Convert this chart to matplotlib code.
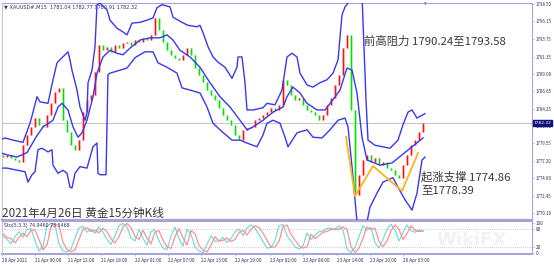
import matplotlib
matplotlib.use('Agg')
import matplotlib.pyplot as plt
import numpy as np

plt.rcParams['font.family'] = ['Noto Sans CJK SC', 'DejaVu Sans']

# ---- data (x = candle index) ----
first_open = 1778.0
closes = [1777.71, 1777.98, 1777.57, 1777.30, 1777.03, 1779.34, 1780.70, 1781.78, 1783.01, 1782.06,
          1781.78, 1783.42, 1785.05, 1786.54, 1787.08, 1782.74, 1781.11, 1779.34, 1778.66, 1780.02,
          1783.82, 1785.45, 1786.13, 1789.26, 1792.93, 1792.25, 1792.65, 1791.98, 1792.93, 1792.52,
          1793.20, 1793.33, 1792.93, 1793.61, 1793.33, 1793.88, 1793.61, 1794.28, 1796.59, 1794.96,
          1793.33, 1792.25, 1791.57, 1791.16, 1790.89, 1791.57, 1792.52, 1791.57, 1789.80, 1788.85,
          1787.90, 1786.81, 1786.13, 1785.45, 1784.37, 1783.42, 1782.74, 1782.06, 1780.70, 1780.02,
          1781.38, 1781.65, 1781.78, 1782.74, 1783.01, 1783.42, 1783.82, 1784.37, 1784.09, 1784.77,
          1788.17, 1787.49, 1786.13, 1785.45, 1785.73, 1784.77, 1784.09, 1783.82, 1783.42, 1782.74,
          1783.42, 1784.77, 1785.73, 1787.49, 1788.85, 1792.52, 1794.28, 1784.09, 1772.55, 1775.26,
          1777.30, 1777.98, 1777.03, 1777.57, 1776.62, 1777.03, 1776.21, 1775.94, 1775.26, 1774.86,
          1776.62, 1777.98, 1779.34, 1780.02, 1781.11, 1782.32]

# bollinger bands
upper_x = [-0.75, 0.5, 2.5, 5, 6.75, 7.5, 8.5, 9.25, 11.25, 12.5, 13.5, 14.75, 16.25, 16.75, 17.25, 18.5,
           19.25, 20.5, 21, 21.25, 22.25, 23, 23.5, 24.25, 26, 26.75, 28.5, 30, 31, 32.25, 34.25, 36,
           37.5, 38.5, 39.75, 41.75, 42.5, 44.75, 46.25, 48.5, 49.25, 50, 51.25, 52.5, 53.75, 55.5,
           57.25, 58.5, 58.75, 59.75, 60.5, 61, 62.5, 65, 66, 68, 69.75, 71, 72.25, 73.5, 74.25, 76,
           77.5, 79.25, 81, 82.5, 83.75, 84.75, 85.5, 86.25, 88, 89.75, 90.75, 91.25, 93, 96.75, 98.75,
           100, 101.25, 102.25, 103.5, 105.5]
upper_y = [1780.0, 1780.3, 1780.0, 1779.7, 1782.3, 1783.8, 1785.9, 1785.2, 1785.0, 1788.2, 1790.5, 1791.2,
           1792.0, 1790.9, 1789.5, 1786.8, 1784.5, 1782.7, 1783.7, 1787.8, 1789.5, 1792.7, 1798.4, 1798.6,
           1797.7, 1796.3, 1795.2, 1794.7, 1794.3, 1795.9, 1796.0, 1796.3, 1796.6, 1798.0, 1798.4, 1798.1,
           1796.7, 1796.0, 1795.6, 1795.4, 1795.6, 1794.6, 1792.7, 1791.3, 1790.6, 1789.9, 1788.4, 1789.9,
           1791.3, 1791.3, 1787.8, 1784.1, 1784.1, 1784.4, 1785.0, 1784.8, 1786.8, 1791.3, 1791.8, 1791.3,
           1789.1, 1787.5, 1787.2, 1787.8, 1788.2, 1789.1, 1790.9, 1797.0, 1798.1, 1798.6, 1799.7, 1799.7,
           1785.5, 1780.0, 1779.3, 1778.9, 1780.0, 1782.1, 1783.8, 1784.1, 1783.0, 1783.6]
mid_x = [-0.75, 1, 3.5, 6, 8.25, 10, 12.5, 13.75, 14.75, 16.25, 17.5, 18.75, 19.75, 21, 22.5, 23.5, 25,
         26.75, 28.5, 30, 31.75, 34.25, 36.75, 39.25, 41, 42.5, 44.25, 46.75, 49.25, 51.75, 54.25, 56.75,
         59.25, 61, 62.5, 65, 67.5, 70, 71, 72.5, 74.25, 76, 78.5, 80.5, 82.5, 84.25, 86, 87.25, 88.5,
         89.75, 91, 94.25, 97.25, 99.75, 102.25, 105]
mid_y = [1778.3, 1778.0, 1777.7, 1778.3, 1780.4, 1781.8, 1782.7, 1784.5, 1785.0, 1784.1, 1781.8, 1780.4,
         1781.0, 1782.7, 1785.9, 1789.1, 1791.3, 1792.2, 1791.8, 1791.6, 1792.5, 1793.6, 1793.9, 1793.9,
         1794.3, 1793.6, 1792.2, 1791.3, 1789.9, 1787.8, 1785.9, 1784.5, 1782.7, 1781.4, 1781.8, 1782.7,
         1783.8, 1784.5, 1785.9, 1787.2, 1786.4, 1785.0, 1784.1, 1784.1, 1785.5, 1786.8, 1789.8, 1789.5,
         1786.4, 1780.4, 1777.3, 1776.6, 1776.9, 1778.0, 1779.1, 1780.3]
lower_x = [-0.75, 1, 5.5, 6.25, 7.25, 8, 8.75, 9.75, 11.25, 12.25, 12.5, 13.75, 15, 16, 16.75, 17.25, 18,
           19.25, 21, 22.5, 23.5, 23.75, 24.25, 25.75, 26.25, 26.75, 29.25, 31, 33, 35.5, 37.5, 38.75, 41,
           43.5, 44.75, 46.75, 49.25, 51, 52.5, 54.25, 57.25, 59.25, 61, 63.5, 65, 66, 67.5, 69.25, 70.5,
           71.25, 73.5, 76, 77.5, 79.75, 81.75, 83.75, 85.5, 86.25, 87.25, 88.5, 89.75, 91, 91.75, 93.5,
           95, 97.5, 98.75, 100.5, 102.25, 103.5, 104.75, 105.5]
lower_y = [1776.2, 1776.2, 1775.7, 1774.3, 1775.3, 1775.7, 1778.7, 1778.9, 1778.4, 1778.7, 1776.6, 1775.5,
           1775.9, 1775.5, 1773.6, 1773.5, 1775.5, 1776.4, 1776.2, 1779.1, 1779.6, 1775.5, 1775.3, 1775.3,
           1788.9, 1789.1, 1789.5, 1789.8, 1791.2, 1792.0, 1792.0, 1790.5, 1789.9, 1789.1, 1787.1, 1786.8,
           1786.4, 1784.5, 1782.3, 1781.4, 1780.0, 1780.0, 1779.6, 1779.1, 1780.7, 1782.3, 1782.7, 1782.3,
           1780.4, 1779.1, 1781.0, 1781.4, 1780.4, 1780.3, 1781.4, 1782.7, 1783.0, 1781.8, 1776.4, 1768.9,
           1768.3, 1768.9, 1770.9, 1772.8, 1774.3, 1774.9, 1773.6, 1771.9, 1770.5, 1772.8, 1777.3, 1777.7]

# hand drawn support line
trend_x = [85.75, 88, 92.5, 99.75, 103.75]
trend_y = [1780.43, 1772.41, 1776.49, 1773.09, 1778.25]

# stochastic (5,3,3): main (K) and signal (D)
sto_k = [58, 45, 30, 55, 72, 52, 80, 82, 40, 5, 20, 92, 100, 96, 30, 5, 2, 12, 50, 85,
         90, 70, 80, 66, 88, 70, 45, 28, 58, 92, 100, 88, 50, 40, 80, 48, 25, 72, 78, 40,
         15, 10, 58, 88, 48, 22, 80, 62, 20, 5, 0, 28, 58, 38, 40, 52, 35, 48, 72, 80,
         58, 84, 95, 84, 62, 38, 15, 18, 42, 92, 97, 58, 40, 20, 12, 22, 68, 45, 60, 72,
         74, 83, 84, 78, 92, 78, 12, 0, 18, 55, 92, 78, 86, 34, 16, 45, 80, 97, 78, 40,
         68, 95, 75, 70, 76, 75]
sto_d = [65, 52, 48, 33, 52, 67, 55, 76, 78, 45, 9, 26, 90, 98, 93, 35, 10, 3, 9, 45,
         80, 86, 72, 77, 68, 84, 72, 48, 33, 55, 89, 100, 86, 55, 45, 77, 50, 30, 70, 75,
         43, 20, 14, 55, 82, 50, 26, 76, 65, 25, 8, 2, 25, 55, 40, 42, 50, 38, 45, 68,
         77, 60, 80, 92, 86, 67, 43, 18, 20, 38, 89, 95, 62, 43, 24, 15, 20, 63, 48, 58,
         70, 72, 80, 82, 80, 88, 80, 20, 0, 15, 50, 88, 80, 84, 38, 20, 40, 75, 95, 80,
         45, 65, 92, 77, 73, 73.5]

price_ticks = [1770.10, 1772.45, 1774.80, 1777.20, 1779.55, 1781.90, 1784.25,
               1786.65, 1789.00, 1791.35, 1793.75, 1796.15, 1798.50]
last_price = 1782.32
time_pos = [-0.25, 8, 16.25, 24.5, 33, 41.25, 49.5, 58, 66.75, 75, 83.5, 91.75, 100]
time_labels = ['20 Apr 2021', '21 Apr 06:00', '21 Apr 12:00', '21 Apr 18:00', '22 Apr 01:00',
               '22 Apr 07:00', '22 Apr 13:00', '22 Apr 19:00', '23 Apr 02:00', '23 Apr 08:00',
               '23 Apr 14:00', '23 Apr 20:00', '26 Apr 03:00']

W, H = 554, 265
frame = '#a4a4d8'
txt = '#303060'

fig = plt.figure(figsize=(W / 100, H / 100), dpi=100)
ax = fig.add_axes([2 / W, 45 / H, 530 / W, 217 / H])
ax2 = fig.add_axes([2 / W, 11 / H, 530 / W, 33 / H])

# ---- candles ----
c = np.array(closes)
o = np.array([first_open] + closes[:-1])
idx = np.arange(len(c))
up = c >= o
dn = ~up
ax.vlines(idx[up], o[up], c[up], colors='#ffc4c4', lw=2.3, zorder=2)
ax.vlines(idx[dn], o[dn], c[dn], colors='#c4f7c4', lw=2.3, zorder=2)
ax.vlines(idx[up], o[up], c[up], colors='#ff1010', lw=0.9, zorder=3)
ax.vlines(idx[dn], o[dn], c[dn], colors='#00e000', lw=0.9, zorder=3)

# ---- bands ----
for bx, by in [(upper_x, upper_y), (mid_x, mid_y), (lower_x, lower_y)]:
    ax.plot(bx, by, color='#3838f0', lw=1.0, zorder=4)

ax.plot(trend_x, trend_y, color='#ffb020', lw=1.3, zorder=5)
ax.axhline(last_price, color='#c6c6d0', lw=0.8, zorder=1)

ax.set_xlim(-0.25, 132.25)
ax.set_ylim(1769.15, 1798.63)
ax.set_xticks([])
ax.yaxis.tick_right()
ax.set_yticks(price_ticks)
ax.set_yticklabels(['%.2f' % p for p in price_ticks])
ax.tick_params(axis='y', labelsize=3.2, length=1.5, width=0.5, pad=1,
               color=frame, labelcolor=txt)
for s in ax.spines.values():
    s.set_color(frame)
    s.set_linewidth(0.8)
ax.spines['bottom'].set_linewidth(1.6)
ax.spines['left'].set_color('#c8c8c8')

# current price box on the axis
ax.annotate('%.2f' % last_price, xy=(1.0, last_price), xycoords=('axes fraction', 'data'),
            xytext=(1.2, 0), textcoords='offset points', fontsize=3.2, color='white',
            va='center', ha='left', family=['DejaVu Sans'], annotation_clip=False,
            bbox=dict(boxstyle='square,pad=0.2', fc='#10107a', ec='#10107a'))

ax.text(0.004, 0.992, '\u25bc XAUUSD#,M15  1781.04 1782.77 1780.91 1782.32',
        transform=ax.transAxes, fontsize=3.6, va='top', ha='left', color=txt,
        family=['DejaVu Sans'])
# shift marker at the top of the chart
ax.text(105.5, 1798.63, '\u25bc', fontsize=2.6, color='#808080', ha='center', va='top',
        family=['DejaVu Sans'])

# ---- stochastic ----
ax2.plot(idx, sto_k, color='#70dcd8', lw=0.85)
ax2.plot(idx, sto_d, color='#ff8a8a', lw=0.85)
for lvl in [20, 80]:
    ax2.axhline(lvl, color='#a0a0a0', lw=0.5, ls=(0, (1, 2)))
ax2.set_xlim(-0.25, 132.25)
ax2.set_ylim(-5, 108.6)
ax2.yaxis.tick_right()
ax2.set_yticks([0, 20, 80, 100])
ax2.set_yticklabels(['0', '20', '80', '100'])
ax2.set_xticks(time_pos)
ax2.set_xticklabels(time_labels)
for lab in ax2.get_xticklabels():
    lab.set_ha('left')
ax2.tick_params(labelsize=3.4, length=1.5, width=0.5, pad=1.2, color=frame, labelcolor=txt)
for s in ax2.spines.values():
    s.set_color(frame)
    s.set_linewidth(0.8)
ax2.spines['bottom'].set_linewidth(1.4)
ax2.spines['left'].set_color('#c8c8c8')
ax2.text(0.004, 0.93, 'Sto(5,3,3) 74.9460 73.5468', transform=ax2.transAxes,
         fontsize=3.4, va='top', ha='left', color=txt, family=['DejaVu Sans'])

# ---- annotations ----
def px(x, y):
    return x / W, 1 - y / H

fs = 8.2
fig.text(*px(364, 41), '前高阻力 1790.24至1793.58', fontsize=fs, color='#3a3a3a', va='center')
fig.text(*px(421, 177), '起涨支撑 1774.86', fontsize=fs, color='#3a3a3a', va='center')
fig.text(*px(421, 190), '至1778.39', fontsize=fs, color='#3a3a3a', va='center')
fig.text(*px(2, 213), '2021年4月26日 黄金15分钟K线', fontsize=8.4, color='#3a3a3a', va='center')
fig.text(*px(472, 240), 'WikiFX', fontsize=13, fontweight='bold', color='#dcdcdc',
         alpha=0.35, ha='center', va='center', family=['DejaVu Sans'])

fig.savefig('out.png', dpi=100)
